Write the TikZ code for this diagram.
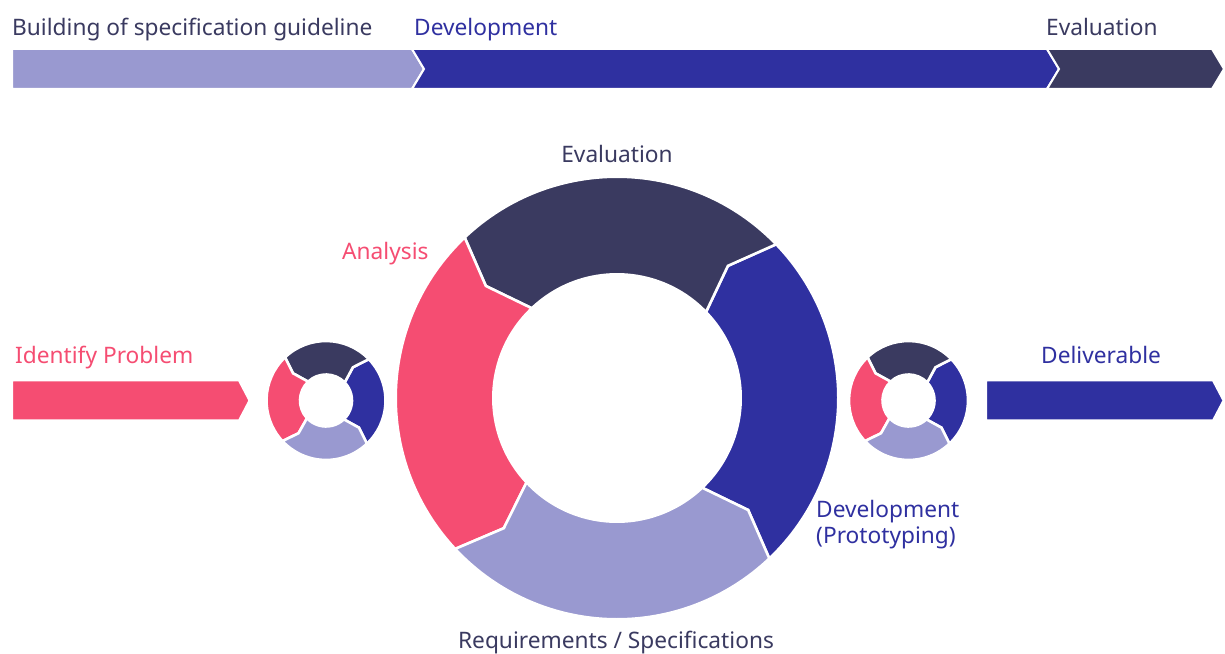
\documentclass[tikz,border=0pt]{standalone}
\usepackage{fontspec}
\setmainfont{Noto Sans}
\usetikzlibrary{calc}

\definecolor{lav}{HTML}{9999D0}
\definecolor{indigo}{HTML}{2F30A0}
\definecolor{navy}{HTML}{3A3A60}
\definecolor{rose}{HTML}{F54D72}

% one segment of a cycle ring: outer radius, inner radius, start angle, end angle, bend offset, colour
\newcommand\cycleseg[6]{%
  \pgfmathsetmacro\segmid{(#1+#2)/2}%
  \filldraw[fill=#6, draw=white, line width=2.6pt, line join=miter]
    (#3:#1) arc[start angle=#3, end angle=#4, radius=#1]
    -- ({#4+#5}:\segmid) -- (#4:#2)
    arc[start angle=#4, end angle=#3, radius=#2]
    -- ({#3+#5}:\segmid) -- cycle;
}
% a complete four-step ring
\newcommand\cyclering[3]{% outer radius, inner radius, bend offset
  \cycleseg{#1}{#2}{-46.5}{44}{#3}{indigo}
  \cycleseg{#1}{#2}{44}{133.5}{#3}{navy}
  \cycleseg{#1}{#2}{133.5}{223}{#3}{rose}
  \cycleseg{#1}{#2}{223}{313.5}{#3}{lav}
}

\tikzset{
  lbl/.style={inner sep=0pt, anchor=base west, font=\fontsize{22.7}{27}\selectfont},
  lblc/.style={lbl, anchor=base},
  band/.style={draw=white, line width=2pt, line join=miter},
}

\begin{document}
\begin{tikzpicture}[x=1pt,y=1pt]
\useasboundingbox (0,0) rectangle (1225,653);

% phase bar along the top
\filldraw[band, fill=lav]    (12,564) -- (412,564) -- (424,584) -- (412,604) -- (12,604) -- cycle;
\filldraw[band, fill=indigo] (412,564) -- (1047,564) -- (1059,584) -- (1047,604) -- (412,604) -- (424,584) -- cycle;
\filldraw[band, fill=navy]   (1047,564) -- (1212,564) -- (1224,584) -- (1212,604) -- (1047,604) -- (1059,584) -- cycle;

\node[lbl, text=navy]   (phaseA) at (12,617)   {Building of specification guideline};
\node[lbl, text=indigo] (phaseB) at (414,617)  {Development};
\node[lbl, text=navy]   (phaseC) at (1046,617) {Evaluation};

% input and output arrows
\filldraw[band, fill=rose]   (12,232.5) -- (239,232.5) -- (249.5,252.5) -- (239,272.5) -- (12,272.5) -- cycle;
\filldraw[band, fill=indigo] (986,232.5) -- (1213,232.5) -- (1223.5,252.5) -- (1213,272.5) -- (986,272.5) -- cycle;

\node[lbl, text=rose]   (inLbl)  at (15,289.5)   {Identify Problem};
\node[lbl, text=indigo] (outLbl) at (1041,289.5) {Deliverable};

% small rings either side
\begin{scope}[shift={(326,252.5)}]
  \cyclering{59.5}{26}{7}
\end{scope}
\begin{scope}[shift={(908.5,252.5)}]
  \cyclering{59.5}{26}{7}
\end{scope}

% main ring
\begin{scope}[shift={(617,255)}]
  \cyclering{221.3}{123.7}{6}
\end{scope}

\node[lblc, text=navy]   (evalLbl) at (617,490) {Evaluation};
\node[lbl,  text=rose]   (anaLbl)  at (342,393.5) {Analysis};
\node[lbl,  text=indigo] (devLbl1) at (816,135) {Development};
\node[lbl,  text=indigo] (devLbl2) at (816,109) {(Prototyping)};
\node[lblc, text=navy]   (reqLbl)  at (616,5)     {Requirements / Specifications};
\end{tikzpicture}
\end{document}
